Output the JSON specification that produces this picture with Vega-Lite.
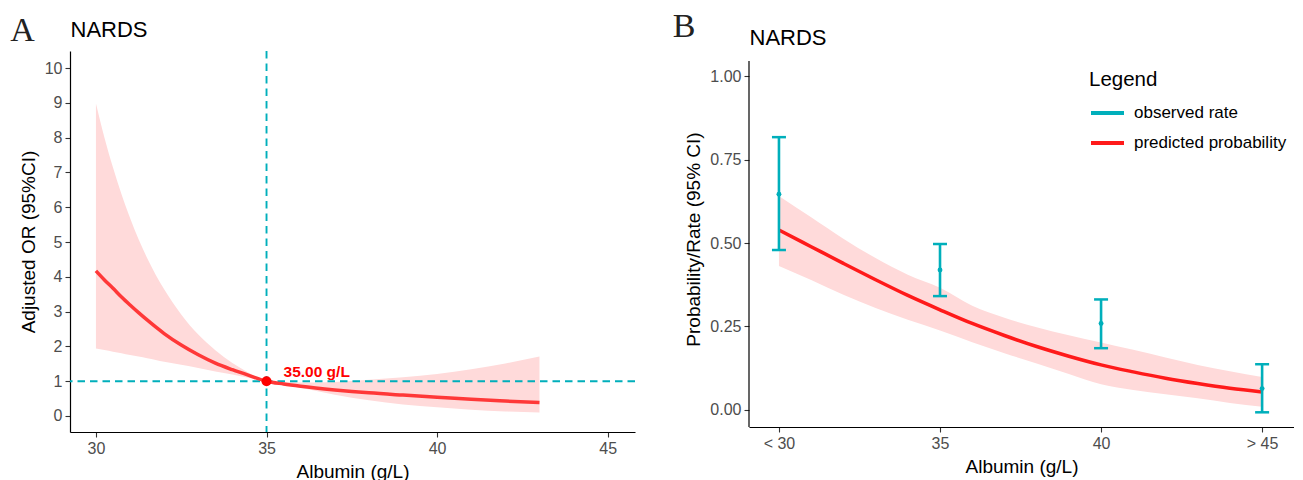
{
"$schema": "https://vega.github.io/schema/vega-lite/v6.json",
"padding": {"left": 10, "top": 10, "right": 0, "bottom": 0},
"spacing": 36,
"datasets": {
"orA": [
{"alb":30,"or":4.17,"lo":1.94,"hi":8.98},
{"alb":30.25,"or":3.91,"lo":1.90,"hi":8.0},
{"alb":30.5,"or":3.67,"lo":1.85,"hi":7.14},
{"alb":30.75,"or":3.42,"lo":1.80,"hi":6.37},
{"alb":31,"or":3.19,"lo":1.75,"hi":5.69},
{"alb":31.25,"or":2.97,"lo":1.71,"hi":5.08},
{"alb":31.5,"or":2.76,"lo":1.66,"hi":4.54},
{"alb":31.75,"or":2.56,"lo":1.61,"hi":4.06},
{"alb":32,"or":2.37,"lo":1.56,"hi":3.64},
{"alb":32.5,"or":2.04,"lo":1.47,"hi":2.92},
{"alb":33,"or":1.76,"lo":1.38,"hi":2.34},
{"alb":33.5,"or":1.52,"lo":1.28,"hi":1.89},
{"alb":34,"or":1.33,"lo":1.19,"hi":1.52},
{"alb":34.5,"or":1.16,"lo":1.09,"hi":1.23},
{"alb":35,"or":1.0,"lo":1.0,"hi":1.0},
{"alb":35.5,"or":0.92,"lo":0.90,"hi":0.975},
{"alb":36,"or":0.855,"lo":0.81,"hi":0.96},
{"alb":37,"or":0.75,"lo":0.61,"hi":0.98},
{"alb":38,"or":0.665,"lo":0.45,"hi":1.04},
{"alb":39,"or":0.60,"lo":0.33,"hi":1.11},
{"alb":40,"or":0.54,"lo":0.25,"hi":1.21},
{"alb":41,"or":0.48,"lo":0.18,"hi":1.34},
{"alb":42,"or":0.43,"lo":0.13,"hi":1.51},
{"alb":43,"or":0.385,"lo":0.10,"hi":1.71}
],
"refA": [{"alb":35,"or":1,"label":"35.00 g/L"}],
"predB": [
{"alb":30,"p":0.539,"lo":0.431,"hi":0.641},
{"alb":31,"p":0.489,"lo":0.389,"hi":0.577},
{"alb":32,"p":0.439,"lo":0.345,"hi":0.513},
{"alb":33,"p":0.390,"lo":0.305,"hi":0.455},
{"alb":34,"p":0.343,"lo":0.270,"hi":0.405},
{"alb":35,"p":0.300,"lo":0.238,"hi":0.366},
{"alb":36,"p":0.259,"lo":0.203,"hi":0.312},
{"alb":37,"p":0.223,"lo":0.170,"hi":0.276},
{"alb":38,"p":0.190,"lo":0.139,"hi":0.248},
{"alb":39,"p":0.161,"lo":0.108,"hi":0.224},
{"alb":40,"p":0.135,"lo":0.077,"hi":0.202},
{"alb":41,"p":0.114,"lo":0.060,"hi":0.180},
{"alb":42,"p":0.095,"lo":0.047,"hi":0.157},
{"alb":43,"p":0.079,"lo":0.035,"hi":0.135},
{"alb":44,"p":0.065,"lo":0.021,"hi":0.116},
{"alb":45,"p":0.054,"lo":0.010,"hi":0.099}
],
"obsB": [
{"alb":30,"rate":0.646,"lo":0.479,"hi":0.817},
{"alb":35,"rate":0.419,"lo":0.341,"hi":0.497},
{"alb":40,"rate":0.259,"lo":0.185,"hi":0.331},
{"alb":45,"rate":0.064,"lo":-0.007,"hi":0.137}
]
},
"hconcat": [
{
"width": 565, "height": 381,
"title": {"text": "A", "anchor": "start", "frame": "bounds", "font": "Liberation Serif", "fontSize": 34, "fontWeight": "normal", "color": "#222222", "baseline": "alphabetic", "offset": -57, "dx": -9},
"resolve": {"axis": {"x": "independent"}},
"layer": [
{"data": {"name": "orA"}, "mark": {"type": "area", "color": "#FFDADA", "interpolate": "monotone"},
 "encoding": {
  "x": {"field": "alb", "type": "quantitative", "scale": {"domain": [29.24, 45.8], "nice": false, "zero": false},
        "axis": {"values": [30,35,40,45], "title": "Albumin (g/L)", "orient": "bottom"}},
  "y": {"field": "lo", "type": "quantitative", "scale": {"domain": [-0.46, 10.49], "nice": false, "zero": false},
        "axis": {"values": [0,1,2,3,4,5,6,7,8,9,10], "title": "Adjusted OR (95%CI)"}},
  "y2": {"field": "hi"}
 }},
{"data": {"name": "refA"}, "mark": {"type": "rule", "color": "#00AFBB", "strokeWidth": 1.9, "strokeDash": [7.5,5]},
 "encoding": {"y": {"datum": 1, "axis": {"values": [0,1,2,3,4,5,6,7,8,9,10], "title": "Adjusted OR (95%CI)"}}}},
{"data": {"name": "refA"}, "mark": {"type": "rule", "color": "#00AFBB", "strokeWidth": 1.9, "strokeDash": [7.5,5]},
 "encoding": {"x": {"datum": 35, "axis": {"orient": "top", "title": "NARDS", "titleAnchor": "start", "titleAlign": "left", "titleFontSize": 22, "titleBaseline": "alphabetic", "titlePadding": 15, "labels": false, "ticks": false, "domain": false}}}},
{"data": {"name": "orA"}, "mark": {"type": "line", "color": "#FF3838", "strokeWidth": 3.5, "interpolate": "monotone"},
 "encoding": {
  "x": {"field": "alb", "type": "quantitative", "axis": null},
  "y": {"field": "or", "type": "quantitative", "axis": {"values": [0,1,2,3,4,5,6,7,8,9,10], "title": "Adjusted OR (95%CI)"}}
 }},
{"data": {"name": "refA"}, "mark": {"type": "circle", "color": "#FF0000", "size": 100, "opacity": 1},
 "encoding": {
  "x": {"field": "alb", "type": "quantitative", "axis": null},
  "y": {"field": "or", "type": "quantitative", "axis": {"values": [0,1,2,3,4,5,6,7,8,9,10], "title": "Adjusted OR (95%CI)"}}
 }},
{"data": {"name": "refA"}, "mark": {"type": "text", "color": "#FF0000", "fontWeight": "bold", "fontSize": 15.5, "font": "Liberation Sans", "align": "left", "baseline": "alphabetic", "dx": 17, "dy": -4},
 "encoding": {
  "x": {"field": "alb", "type": "quantitative", "axis": null},
  "y": {"field": "or", "type": "quantitative", "axis": {"values": [0,1,2,3,4,5,6,7,8,9,10], "title": "Adjusted OR (95%CI)"}},
  "text": {"field": "label"}
 }}
]
},
{
"width": 545, "height": 376,
"title": {"text": "B", "anchor": "start", "frame": "bounds", "font": "Liberation Serif", "fontSize": 34, "fontWeight": "normal", "color": "#222222", "baseline": "alphabetic", "offset": -45, "dx": -12},
"resolve": {"axis": {"x": "independent"}},
"layer": [
{"data": {"name": "predB"}, "mark": {"type": "area", "color": "#FFDADA", "interpolate": "monotone"},
 "encoding": {
  "x": {"field": "alb", "type": "quantitative", "scale": {"domain": [29.07, 45.99], "nice": false, "zero": false},
        "axis": {"values": [30,35,40,45], "title": "Albumin (g/L)", "orient": "bottom", "labelExpr": "datum.value == 30 ? '< 30' : datum.value == 45 ? '> 45' : datum.label"}},
  "y": {"field": "lo", "type": "quantitative", "title": "Probability/Rate (95% CI)", "scale": {"domain": [-0.051, 1.075], "nice": false, "zero": false},
        "axis": {"values": [0,0.25,0.5,0.75,1], "format": ".2f", "domain": false}},
  "y2": {"field": "hi"}
 }},
{"data": {"name": "refA"}, "mark": {"type": "rule", "color": "black", "strokeWidth": 1.2},
 "encoding": {"x": {"datum": 29.07, "axis": null}, "y": {"datum": -0.051, "title": "Probability/Rate (95% CI)"}, "y2": {"datum": 1.045}}},
{"data": {"name": "predB"}, "mark": {"type": "line", "strokeWidth": 3.5, "interpolate": "monotone"},
 "encoding": {
  "x": {"field": "alb", "type": "quantitative", "axis": null},
  "y": {"field": "p", "type": "quantitative", "title": "Probability/Rate (95% CI)"},
  "color": {"datum": "predicted probability", "type": "nominal",
    "scale": {"domain": ["observed rate", "predicted probability"], "range": ["#00AFBB", "#FF1A1A"]},
    "legend": {"title": "Legend", "orient": "none", "legendX": 1019, "legendY": 19, "symbolType": "stroke", "symbolStrokeWidth": 4, "symbolSize": 1089, "labelFontSize": 17, "labelFont": "Liberation Sans", "labelColor": "black", "titleFontSize": 20.5, "titleFont": "Liberation Sans", "titleFontWeight": "normal", "titleColor": "black", "rowPadding": 3, "titlePadding": 4, "labelOffset": 8}}
 }},
{"data": {"name": "obsB"}, "mark": {"type": "rule", "strokeWidth": 2.6},
 "encoding": {
  "x": {"field": "alb", "type": "quantitative", "axis": null},
  "y": {"field": "lo", "type": "quantitative", "title": "Probability/Rate (95% CI)"},
  "y2": {"field": "hi"},
  "color": {"datum": "observed rate", "type": "nominal"}
 }},
{"data": {"name": "obsB"}, "mark": {"type": "tick", "orient": "horizontal", "size": 14, "thickness": 2.5, "color": "#00AFBB", "opacity": 1},
 "encoding": {
  "x": {"field": "alb", "type": "quantitative", "axis": null},
  "y": {"field": "lo", "type": "quantitative", "title": "Probability/Rate (95% CI)"}
 }},
{"data": {"name": "obsB"}, "mark": {"type": "tick", "orient": "horizontal", "size": 14, "thickness": 2.5, "color": "#00AFBB", "opacity": 1},
 "encoding": {
  "x": {"field": "alb", "type": "quantitative", "axis": null},
  "y": {"field": "hi", "type": "quantitative", "title": "Probability/Rate (95% CI)"}
 }},
{"data": {"name": "obsB"}, "mark": {"type": "circle", "size": 24, "color": "#00AFBB", "opacity": 1},
 "encoding": {
  "x": {"field": "alb", "type": "quantitative", "axis": {"orient": "top", "title": "NARDS", "titleAnchor": "start", "titleAlign": "left", "titleFontSize": 22, "titleBaseline": "alphabetic", "titlePadding": 7, "labels": false, "ticks": false, "domain": false}},
  "y": {"field": "rate", "type": "quantitative", "title": "Probability/Rate (95% CI)"}
 }}
]
}
],
"config": {
"view": {"stroke": null},
"font": "Liberation Sans",
"axis": {"grid": false, "domainColor": "black", "domainWidth": 1.2, "tickColor": "#333333", "tickSize": 5, "tickWidth": 1.1, "labelColor": "#4D4D4D", "labelFontSize": 16, "labelFont": "Liberation Sans", "labelPadding": 3, "titleFont": "Liberation Sans", "titleFontSize": 19, "titleFontWeight": "normal", "titleColor": "black", "titlePadding": 6}
}
}
